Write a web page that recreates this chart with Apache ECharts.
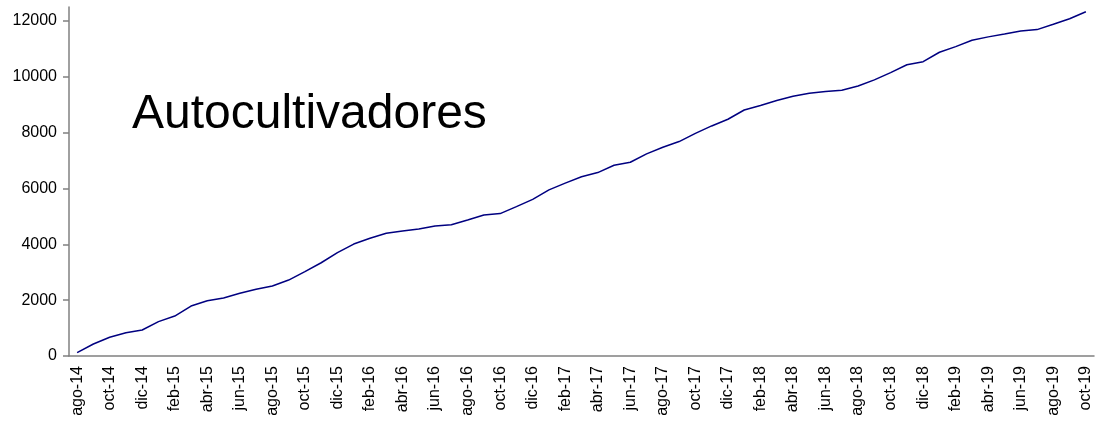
<!DOCTYPE html>
<html>
<head>
<meta charset="utf-8">
<script src="https://cdn.jsdelivr.net/npm/echarts@6/dist/echarts.min.js"></script>
<style>
  html, body { margin: 0; padding: 0; background: #fff; }
  #chart { width: 1101px; height: 422px; }
</style>
</head>
<body>
<div id="chart"></div>
<script>
// meses ago-14 .. oct-19
const months = [
  'ago-14', 'sep-14', 'oct-14', 'nov-14', 'dic-14',
  'ene-15', 'feb-15', 'mar-15', 'abr-15', 'may-15', 'jun-15', 'jul-15', 'ago-15', 'sep-15', 'oct-15', 'nov-15', 'dic-15',
  'ene-16', 'feb-16', 'mar-16', 'abr-16', 'may-16', 'jun-16', 'jul-16', 'ago-16', 'sep-16', 'oct-16', 'nov-16', 'dic-16',
  'ene-17', 'feb-17', 'mar-17', 'abr-17', 'may-17', 'jun-17', 'jul-17', 'ago-17', 'sep-17', 'oct-17', 'nov-17', 'dic-17',
  'ene-18', 'feb-18', 'mar-18', 'abr-18', 'may-18', 'jun-18', 'jul-18', 'ago-18', 'sep-18', 'oct-18', 'nov-18', 'dic-18',
  'ene-19', 'feb-19', 'mar-19', 'abr-19', 'may-19', 'jun-19', 'jul-19', 'ago-19', 'sep-19', 'oct-19'
]

const autocultivadores = [
  120, 430, 670, 835, 930,
  1230, 1430, 1790, 1980, 2080, 2245, 2390, 2510, 2720, 3020, 3340, 3700,
  4010, 4215, 4395, 4480, 4550, 4660, 4700, 4870, 5050, 5100, 5350, 5610,
  5950, 6190, 6420, 6570, 6830, 6940, 7240, 7475, 7680, 7975, 8240, 8480,
  8810, 8970, 9150, 9300, 9410, 9470, 9520, 9670, 9890, 10150, 10430, 10540,
  10880, 11080, 11310, 11430, 11530, 11640, 11690, 11880, 12080, 12330
]

const yTicks = [0, 2000, 4000, 6000, 8000, 10000, 12000]

const chart = echarts.init(document.getElementById('chart'))

const axisColor = '#808080'
const fontFamily = '"Liberation Sans", Arial, sans-serif'

chart.setOption({
  animation: false,
  title: {
    text: 'Autocultivadores',
    left: 127,
    top: 86,
    textStyle: {
      fontFamily: fontFamily,
      fontSize: 48,
      fontWeight: 'normal',
      color: '#000'
    }
  },
  grid: {
    left: 69,
    right: 7,
    top: 7,
    bottom: 66
  },
  xAxis: {
    type: 'category',
    data: months,
    boundaryGap: true,
    axisLine: { lineStyle: { color: axisColor, width: 1.5 } },
    axisTick: { length: 6, interval: 1, lineStyle: { color: axisColor, width: 1.5 } },
    axisLabel: {
      interval: 1,
      rotate: 90,
      margin: 10,
      fontFamily: fontFamily,
      fontSize: 16,
      color: '#000'
    },
    splitLine: { show: false }
  },
  yAxis: {
    type: 'value',
    min: 0,
    max: 12500,
    axisLine: { show: true, lineStyle: { color: axisColor, width: 1.5 } },
    axisTick: { show: true, length: 6, customValues: yTicks, lineStyle: { color: axisColor, width: 1.5 } },
    axisLabel: {
      customValues: yTicks,
      formatter: v => String(v),
      margin: 12,
      fontFamily: fontFamily,
      fontSize: 16,
      color: '#000'
    },
    splitLine: { show: false }
  },
  series: [{
    name: 'Autocultivadores',
    type: 'line',
    data: autocultivadores,
    symbol: 'none',
    lineStyle: { color: '#000080', width: 1.5 }
  }]
})
</script>
</body>
</html>
